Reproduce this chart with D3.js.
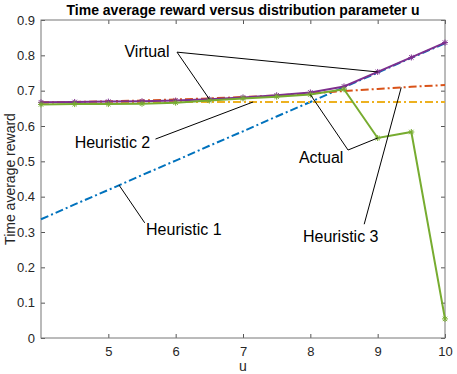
<!DOCTYPE html>
<html>
<head>
<meta charset="utf-8">
<script src="https://cdn.jsdelivr.net/npm/d3@7"></script>
<style>
  body { margin: 0; background: #fff; }
  svg { font-family: "Liberation Sans", Arial, sans-serif; }
</style>
</head>
<body>
<div id="canvas"></div>
<script>
// data
const uValues = [4, 4.5, 5, 5.5, 6, 6.5, 7, 7.5, 8, 8.5, 9, 9.5, 10];
const virtual = [0.667, 0.668, 0.669, 0.670, 0.672, 0.676, 0.681, 0.687, 0.695, 0.712, 0.753, 0.794, 0.836];
const actual = [0.661, 0.662, 0.662, 0.663, 0.666, 0.672, 0.678, 0.683, 0.689, 0.704, 0.566, 0.583, 0.054];
const heuristic1 = [0.336, 0.378, 0.419, 0.461, 0.502, 0.544, 0.585, 0.627, 0.668, 0.710, 0.751, 0.793, 0.834];
const heuristic2 = [0.668, 0.668, 0.668, 0.668, 0.668, 0.668, 0.668, 0.668, 0.668, 0.668, 0.668, 0.668, 0.668];
const heuristic3 = [0.666, 0.668, 0.670, 0.672, 0.675, 0.678, 0.682, 0.686, 0.692, 0.699, 0.705, 0.711, 0.716];
const xTicks = [5, 6, 7, 8, 9, 10];
const yTicks = [0, 0.1, 0.2, 0.3, 0.4, 0.5, 0.6, 0.7, 0.8, 0.9];

// annotation labels: text spot and line vertex in data units, targets = [series, u]
const notes = [
  { text: "Virtual", at: [5.24, 0.795], from: [6.02, 0.809], to: [["virtual", 6.5], ["virtual", 9]] },
  { text: "Heuristic 2", at: [4.50, 0.537], from: [5.70, 0.563], to: [["heuristic2", 7.15]] },
  { text: "Heuristic 1", at: [5.56, 0.291], from: [5.54, 0.326], to: [["heuristic1", 5.16]] },
  { text: "Actual", at: [7.83, 0.495], from: [8.56, 0.532], to: [["actual", 9], ["actual", 8]] },
  { text: "Heuristic 3", at: [7.89, 0.271], from: [8.80, 0.322], to: [["heuristic3", 9.35]] }
];

const width = 457;
const height = 374;
const margin = { top: 20, left: 41, bottom: 36, right: 12 };
const iwidth = width - margin.left - margin.right;
const iheight = height - margin.top - margin.bottom;

const svg = d3.select("#canvas").append("svg")
  .attr("width", width)
  .attr("height", height);

const g = svg.append("g").attr("transform", `translate(${margin.left},${margin.top})`);

const x = d3.scaleLinear().domain([4, 10]).range([0, iwidth]);
const y = d3.scaleLinear().domain([0, 0.9]).range([iheight, 0]);

const series = {
  heuristic1: { values: heuristic1, color: "#0072BD", dash: "8,3,2,3", marker: false },
  heuristic3: { values: heuristic3, color: "#D95319", dash: "8,3,2,3", marker: false },
  heuristic2: { values: heuristic2, color: "#EDB120", dash: "8,3,2,3", marker: false },
  virtual: { values: virtual, color: "#7E2F8E", dash: null, marker: true },
  actual: { values: actual, color: "#77AC30", dash: null, marker: true }
};

// axes with inward ticks
const xAxis = g.append("g")
  .attr("transform", `translate(0,${iheight})`)
  .call(d3.axisBottom(x).tickValues(xTicks).tickFormat(d3.format("d"))
    .tickSizeInner(-4).tickSizeOuter(0).tickPadding(9));
const xTop = g.append("g")
  .call(d3.axisTop(x).tickValues(xTicks).tickSizeInner(-4).tickSizeOuter(0).tickFormat(""));
const yAxis = g.append("g")
  .call(d3.axisLeft(y).tickValues(yTicks).tickSizeInner(-4).tickSizeOuter(0).tickPadding(6)
    .tickFormat(d => d === 0 ? "0" : d.toFixed(1)));
const yRight = g.append("g")
  .attr("transform", `translate(${iwidth},0)`)
  .call(d3.axisRight(y).tickValues(yTicks).tickSizeInner(-4).tickSizeOuter(0).tickFormat(""));

[xAxis, xTop, yAxis, yRight].forEach(a => {
  a.select(".domain").remove();
  a.selectAll(".tick line").attr("stroke", "#555");
  a.selectAll("text").attr("fill", "#262626").style("font-size", "13px");
});

g.append("rect")
  .attr("width", iwidth)
  .attr("height", iheight)
  .attr("fill", "none")
  .attr("stroke", "#777")
  .attr("stroke-width", 1);

const line = d3.line()
  .x((d, i) => x(uValues[i]))
  .y(d => y(d));

for (const key in series) {
  const s = series[key];
  g.append("path")
    .datum(s.values)
    .attr("fill", "none")
    .attr("stroke", s.color)
    .attr("stroke-width", 2)
    .attr("stroke-dasharray", s.dash)
    .attr("d", line);
  if (s.marker) {
    g.selectAll(null).data(s.values).enter().append("path")
      .attr("transform", (d, i) => `translate(${x(uValues[i])},${y(d)})`)
      .attr("d", "M-3,0H3M0,-3V3M-2.2,-2.2L2.2,2.2M-2.2,2.2L2.2,-2.2")
      .attr("fill", "none")
      .attr("stroke", s.color)
      .attr("stroke-width", 1);
  }
}

// value of a series at any u (straight segments)
function valueAt(key, u) {
  const vals = series[key].values;
  return d3.scaleLinear().domain(uValues).range(vals)(u);
}

notes.forEach(n => {
  n.to.forEach(t => {
    g.append("line")
      .attr("x1", x(n.from[0]))
      .attr("y1", y(n.from[1]))
      .attr("x2", x(t[1]))
      .attr("y2", y(valueAt(t[0], t[1])))
      .attr("stroke", "#000")
      .attr("stroke-width", 1);
  });
  g.append("text")
    .attr("x", x(n.at[0]))
    .attr("y", y(n.at[1]))
    .attr("fill", "#000")
    .style("font-size", "16px")
    .text(n.text);
});

svg.append("text")
  .attr("x", margin.left + iwidth / 2)
  .attr("y", 15)
  .attr("text-anchor", "middle")
  .style("font-size", "14px")
  .style("font-weight", "bold")
  .text("Time average reward versus distribution parameter u");

svg.append("text")
  .attr("x", margin.left + iwidth / 2)
  .attr("y", 371)
  .attr("text-anchor", "middle")
  .attr("fill", "#262626")
  .style("font-size", "14px")
  .text("u");

svg.append("text")
  .attr("transform", `translate(15,${margin.top + iheight / 2}) rotate(-90)`)
  .attr("text-anchor", "middle")
  .attr("fill", "#262626")
  .style("font-size", "14px")
  .text("Time average reward");
</script>
</body>
</html>
